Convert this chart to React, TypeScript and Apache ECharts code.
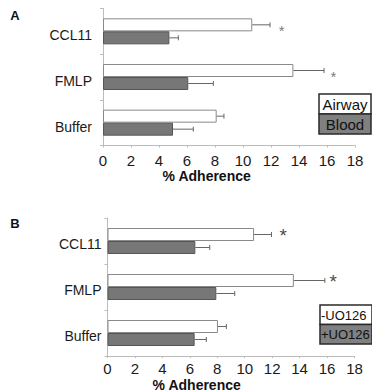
import React, { useEffect, useRef } from 'react';
import * as echarts from 'echarts';

const categories = ['CCL11', 'FMLP', 'Buffer'];
const panelLabels = ['A', 'B'];
const axisTitle = '% Adherence';
const xMin = 0;
const xMax = 18;
const xInterval = 2;

// Panel A
const airway = [10.66, 13.6, 8.12];
const airwayErr = [11.93, 15.79, 8.64];
const blood = [4.74, 6.09, 5.0];
const bloodErr = [5.38, 7.88, 6.45];
const starsA = [12.76, 16.45];

// Panel B
const minusUO = [10.68, 13.58, 8.05];
const minusUOErr = [11.95, 15.84, 8.66];
const plusUO = [6.4, 7.93, 6.35];
const plusUOErr = [7.45, 9.27, 7.2];
const starsB = [12.8, 16.45];

const legendA = ['Airway', 'Blood'];
const legendB = ['-UO126', '+UO126'];

const FONT = "'Liberation Sans', Arial, sans-serif";
const GRAY = '#777777';

function errSeries(name: string, vals: number[], errs: number[], idx: number, offset: number) {
  return {
    name,
    type: 'custom',
    xAxisIndex: idx,
    yAxisIndex: idx,
    z: 5,
    silent: true,
    encode: { x: 0, y: 1 },
    data: vals.map((v, i) => [v, i, errs[i]]),
    renderItem: (params: any, api: any) => {
      const v = api.value(0);
      const c = api.value(1);
      const e = api.value(2);
      const p1 = api.coord([v, c]);
      const p2 = api.coord([e, c]);
      const y = p1[1] + offset;
      const st = { stroke: '#666', lineWidth: 1 };
      return {
        type: 'group',
        children: [
          { type: 'line', shape: { x1: p1[0], y1: y, x2: p2[0], y2: y }, style: st },
          { type: 'line', shape: { x1: p2[0], y1: y - 2.5, x2: p2[0], y2: y + 2.5 }, style: st },
        ],
      };
    },
  };
}

function barSeries(name: string, vals: number[], idx: number, fill: string, border: string) {
  return {
    name,
    type: 'bar',
    xAxisIndex: idx,
    yAxisIndex: idx,
    barWidth: 13,
    barGap: '0%',
    data: vals,
    itemStyle: { color: fill, borderColor: border, borderWidth: 1 },
  };
}

function starSeries(xs: number[], idx: number, size: number, color: string, dy: number) {
  return {
    type: 'scatter',
    xAxisIndex: idx,
    yAxisIndex: idx,
    symbolSize: 0,
    z: 6,
    data: xs.map((x, i) => [x, i]),
    label: {
      show: true,
      position: 'inside',
      formatter: '*',
      fontSize: size,
      fontFamily: FONT,
      color,
      offset: [0, dy],
    },
  };
}

function makeXAxis(idx: number, margin: number) {
  return {
    type: 'value',
    gridIndex: idx,
    min: xMin,
    max: xMax,
    interval: xInterval,
    axisLine: { show: true, lineStyle: { color: '#bbbbbb', width: 1 } },
    axisTick: { show: true, length: 2, lineStyle: { color: '#bbbbbb' } },
    splitLine: { show: false },
    axisLabel: { fontSize: 15, fontFamily: FONT, color: '#1a1a1a', margin },
  };
}

function makeYAxis(idx: number, margin: number, lh: number) {
  return {
    type: 'category',
    gridIndex: idx,
    inverse: true,
    data: categories,
    axisLine: { show: true, lineStyle: { color: '#bbbbbb', width: 1 } },
    axisTick: { show: true, length: 3, lineStyle: { color: '#bbbbbb' } },
    axisLabel: {
      fontSize: 14,
      fontFamily: FONT,
      color: '#1a1a1a',
      margin,
      verticalAlign: 'top',
      lineHeight: lh,
    },
  };
}

function legendGraphic(labels: string[], x: number, y: number, h: number, align: 'center' | 'left', fs: number) {
  const w = 52;
  const out: any[] = [];
  labels.forEach((t, i) => {
    out.push({
      type: 'rect',
      shape: { x, y: y + i * h, width: w, height: h },
      style: { fill: i === 0 ? '#ffffff' : '#808080', stroke: '#2a2a2a', lineWidth: 1.5 },
      z: 10,
    });
    out.push({
      type: 'text',
      x: align === 'center' ? x + w / 2 : x + 1,
      y: y + i * h + h / 2 + 0.5,
      style: {
        text: t,
        fontSize: fs,
        fontFamily: FONT,
        fill: '#111111',
        align,
        verticalAlign: 'middle',
      },
      z: 11,
    });
  });
  return out;
}

export default function App() {
  const ref = useRef<HTMLDivElement>(null);
  useEffect(() => {
    document.body.style.margin = '0';
    if (!ref.current) return;
    const chart = echarts.init(ref.current, undefined, { renderer: 'svg' });
    chart.setOption({
      animation: false,
      backgroundColor: '#ffffff',
      grid: [
        { left: 103, width: 252, top: 8.5, height: 137, containLabel: false },
        { left: 107.5, width: 247, top: 218, height: 138, containLabel: false },
      ],
      xAxis: [makeXAxis(0, 7.5), makeXAxis(1, 5)],
      yAxis: [makeYAxis(0, 11, 8), makeYAxis(1, 6, 6)],
      series: [
        barSeries(legendA[0], airway, 0, '#ffffff', '#8a8a8a'),
        barSeries(legendA[1], blood, 0, GRAY, '#555555'),
        barSeries(legendB[0], minusUO, 1, '#ffffff', '#8a8a8a'),
        barSeries(legendB[1], plusUO, 1, GRAY, '#555555'),
        errSeries('errA1', airway, airwayErr, 0, -6.5),
        errSeries('errA2', blood, bloodErr, 0, 6.5),
        errSeries('errB1', minusUO, minusUOErr, 1, -6.5),
        errSeries('errB2', plusUO, plusUOErr, 1, 6.5),
        starSeries(starsA, 0, 15, '#555555', -1),
        starSeries(starsB, 1, 19, '#111111', -5.5),
      ],
      graphic: [
        {
          type: 'text', x: 15, y: 15,
          style: { text: panelLabels[0], fontSize: 13, fontWeight: 'bold', fontFamily: FONT, fill: '#111', align: 'center', verticalAlign: 'middle' },
        },
        {
          type: 'text', x: 15, y: 223,
          style: { text: panelLabels[1], fontSize: 13, fontWeight: 'bold', fontFamily: FONT, fill: '#111', align: 'center', verticalAlign: 'middle' },
        },
        {
          type: 'text', x: 206.7, y: 176,
          style: { text: axisTitle, fontSize: 14, fontWeight: 'bold', fontFamily: FONT, fill: '#111', align: 'center', verticalAlign: 'middle' },
        },
        {
          type: 'text', x: 196.7, y: 385,
          style: { text: axisTitle, fontSize: 14, fontWeight: 'bold', fontFamily: FONT, fill: '#111', align: 'center', verticalAlign: 'middle' },
        },
        ...legendGraphic(legendA, 319, 94, 20, 'center', 15),
        ...legendGraphic(legendB, 320, 305, 19.5, 'left', 13),
      ],
    });
    return () => chart.dispose();
  }, []);
  return <div ref={ref} style={{ width: 372, height: 392 }} />;
}
